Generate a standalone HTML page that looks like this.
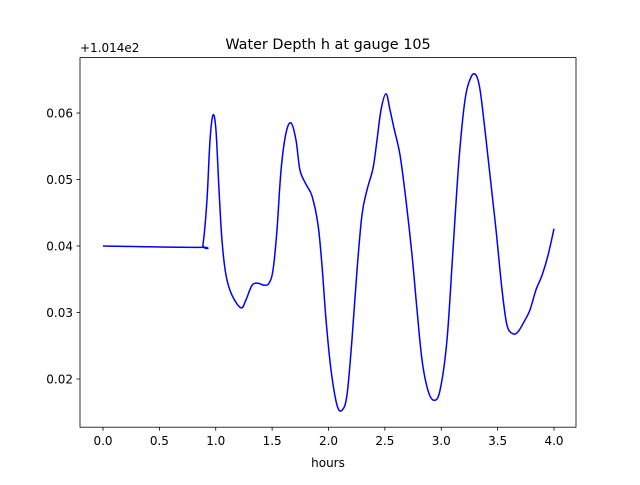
<!DOCTYPE html>
<html><head><meta charset="utf-8"><style>
body{margin:0;background:#fff;}
svg text{font-family:"DejaVu Sans","Liberation Sans",sans-serif;fill:#000;}
</style></head><body>
<svg id="chart" width="640" height="480" xmlns="http://www.w3.org/2000/svg">
<rect width="640" height="480" fill="#fff"/>
<text x="328" y="49" font-size="14.4" text-anchor="middle">Water Depth h at gauge 105</text>
<text x="80" y="52" font-size="12">+1.014e2</text>
<text x="328" y="467" font-size="12" text-anchor="middle">hours</text>
<g id="ticks"></g>
<path id="line" fill="none" stroke="#0000ff" stroke-width="1.5"/>
<rect x="80" y="57.6" width="496" height="369.6" fill="none" stroke="#000" stroke-width="0.8"/>
</svg>
<script>
const hours=[0,0.86,0.887,0.922,0.949,0.976,1.002,1.029,1.055,1.091,1.144,1.224,1.268,1.322,1.375,1.428,1.472,1.508,1.543,1.579,1.623,1.668,1.712,1.747,1.800,1.854,1.907,1.942,1.978,2.022,2.075,2.120,2.164,2.208,2.253,2.297,2.341,2.395,2.430,2.466,2.510,2.545,2.581,2.634,2.687,2.741,2.785,2.829,2.882,2.936,2.989,3.051,3.104,3.157,3.211,3.264,3.308,3.344,3.388,3.432,3.486,3.539,3.583,3.636,3.681,3.734,3.787,3.840,3.894,3.947,4.0];
const depth=[.0400,.0398,.0403,.0469,.0559,.0597,.0574,.0484,.0409,.0356,.0326,.0307,.0319,.0341,.0344,.0341,.0344,.0364,.0424,.0514,.0570,.0585,.0559,.0514,.0493,.0475,.0432,.0371,.0289,.0214,.0161,.0153,.0176,.0259,.0364,.0447,.0484,.0517,.0559,.0605,.0629,.0605,.0577,.0537,.0469,.0386,.0304,.0229,.0183,.0168,.0183,.0259,.0394,.0529,.0620,.0654,.0657,.0635,.0574,.0507,.0424,.0334,.0281,.0268,.0271,.0286,.0304,.0334,.0356,.0386,.0426];
const xTicks=[0,0.5,1,1.5,2,2.5,3,3.5,4];
const xTickLabels=["0.0","0.5","1.0","1.5","2.0","2.5","3.0","3.5","4.0"];
const yTicks=[0.02,0.03,0.04,0.05,0.06];
const yTickLabels=["0.02","0.03","0.04","0.05","0.06"];
const X=v=>103+v*112.75;
const Y=v=>246-(v-0.04)*6650;
const NS="http://www.w3.org/2000/svg";
const g=document.getElementById('ticks');
function mk(t,a){const e=document.createElementNS(NS,t);for(const k in a)e.setAttribute(k,a[k]);g.appendChild(e);return e;}
xTicks.forEach((v,i)=>{
 const l=mk('line',{x1:X(v),x2:X(v),y1:427.2,y2:430.7,stroke:'#000','stroke-width':0.8});
 
 
 const t=mk('text',{x:X(v),y:445,'font-size':12,'text-anchor':'middle'});t.textContent=xTickLabels[i];
 
 
});
yTicks.forEach((v,i)=>{
 const l=mk('line',{x1:76.5,x2:80,y1:Y(v),y2:Y(v),stroke:'#000','stroke-width':0.8});
 
 
 const t=mk('text',{x:73,y:Y(v)+4.5,'font-size':12,'text-anchor':'end'});t.textContent=yTickLabels[i];
 
 
});
const P=hours.map((h,i)=>[X(h),Y(depth[i])]);
let d='M'+P[0][0]+','+P[0][1];
for(let i=0;i<P.length-1;i++){
 const p0=P[Math.max(0,i-1)],p1=P[i],p2=P[i+1],p3=P[Math.min(P.length-1,i+2)];
 const c1=[p1[0]+(p2[0]-p0[0])/6,p1[1]+(p2[1]-p0[1])/6];
 const c2=[p2[0]-(p3[0]-p1[0])/6,p2[1]-(p3[1]-p1[1])/6];
 d+=` C${c1[0]},${c1[1]} ${c2[0]},${c2[1]} ${p2[0]},${p2[1]}`;
}
document.getElementById('line').setAttribute('d',d);
</script>
</body></html>
